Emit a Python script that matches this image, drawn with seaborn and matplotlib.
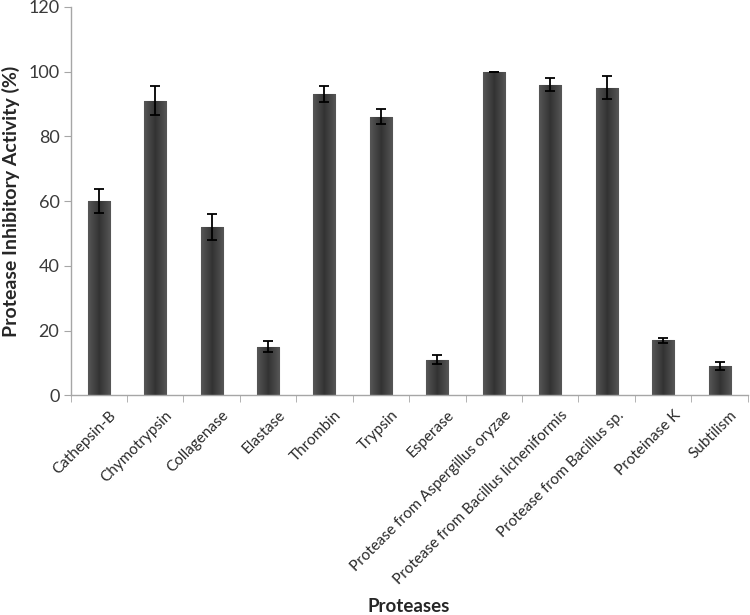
import numpy as np
import pandas as pd
import seaborn as sns
import matplotlib.pyplot as plt
import matplotlib.transforms as mtransforms

# Data
proteases = ["Cathepsin-B", "Chymotrypsin", "Collagenase", "Elastase", "Thrombin",
             "Trypsin", "Esperase", "Protease from Aspergillus oryzae",
             "Protease from Bacillus licheniformis", "Protease from Bacillus sp.",
             "Proteinase K", "Subtilism"]
activity = [60, 91, 52, 15, 93, 86, 11, 100, 96, 95, 17, 9]
error = [3.6, 4.5, 4.0, 1.7, 2.5, 2.3, 1.4, 0.0, 2.1, 3.5, 0.7, 1.2]

df = pd.DataFrame({"Protease": proteases, "Activity": activity, "Err": error})

sns.set_style("white")
plt.rcParams["font.family"] = ["Lato", "DejaVu Sans"]

fig = plt.figure(figsize=(7.5, 6.15), dpi=100)
ax = fig.add_axes([0.094, 0.357, 0.903, 0.632])

sns.barplot(data=df, x="Protease", y="Activity", color="#444444", width=0.39,
            edgecolor="#8a8a8a", linewidth=0.8, saturation=1, ax=ax)

# simple gradient shading on each bar
grad = np.linspace(0, 1, 64)
shade = 0.20 + 0.14 * np.abs(grad - 0.5) * 2
for p in ax.patches:
    x0, y0 = p.get_x(), p.get_y()
    w, h = p.get_width(), p.get_height()
    im = ax.imshow(shade[np.newaxis, :], cmap="gray", vmin=0, vmax=1, aspect="auto",
                   extent=(x0, x0 + w, y0, y0 + h), zorder=p.get_zorder() + 0.1,
                   interpolation="bilinear")
    im.set_clip_path(p)

ax.errorbar(np.arange(len(proteases)), df["Activity"], yerr=df["Err"], fmt="none",
            ecolor="black", elinewidth=1.3, capsize=3.8, capthick=1.3, zorder=5)

ax.set_xlim(-0.5, len(proteases) - 0.5)
ax.set_ylim(0, 120)
ax.set_yticks(range(0, 121, 20))

for s in ["top", "right"]:
    ax.spines[s].set_visible(False)
for s in ["left", "bottom"]:
    ax.spines[s].set_color("#a6a6a6")
    ax.spines[s].set_linewidth(1)

ax.set_xticks(np.arange(len(proteases)))
ax.set_xticklabels(proteases, rotation=45, ha="right", rotation_mode="anchor",
                   fontsize=11, color="#2a2a2a")
ax.set_xticks(np.arange(len(proteases) + 1) - 0.5, minor=True)
ax.tick_params(axis="x", which="major", length=0, pad=12)
ax.tick_params(axis="x", which="minor", length=5, color="#a6a6a6", direction="out", bottom=True)
ax.tick_params(axis="y", length=5, color="#a6a6a6", direction="out", left=True,
               labelsize=13, labelcolor="#3a3a3a", pad=3)

# nudge rotated labels so they end under the bar centres
shift = mtransforms.ScaledTranslation(0.10, 0.04, fig.dpi_scale_trans)
for lab in ax.get_xticklabels():
    lab.set_transform(lab.get_transform() + shift)

ax.set_xlabel("Proteases", fontsize=13.5, fontweight="bold")
ax.set_ylabel("Protease Inhibitory Activity (%)", fontsize=14, fontweight="bold", labelpad=6)
ax.xaxis.set_label_coords(0.5, -0.52)

fig.savefig("out.png", dpi=100)
